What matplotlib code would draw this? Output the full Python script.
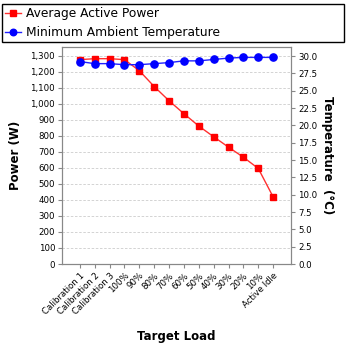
import matplotlib
matplotlib.use("Agg")
import matplotlib.pyplot as plt
import numpy as np

categories = ["Calibration 1", "Calibration 2", "Calibration 3", "100%", "90%", "80%",
              "70%", "60%", "50%", "40%", "30%", "20%", "10%", "Active Idle"]
power = [1277, 1283, 1283, 1277, 1208, 1109, 1020, 939, 862, 795, 730, 667, 597, 419]
temperature = [29.2, 28.9, 28.9, 28.75, 28.75, 28.9, 29.05, 29.3, 29.3, 29.5, 29.7, 29.8, 29.8, 29.8]
power_ticks = list(range(0, 1301, 100))
temp_ticks = [0.0, 2.5, 5.0, 7.5, 10.0, 12.5, 15.0, 17.5, 20.0, 22.5, 25.0, 27.5, 30.0]

fig = plt.figure(figsize=(3.48, 3.48), dpi=100)
ax = fig.add_axes([62/348, 1-264/348, (291-62)/348, (264-47)/348])
ax2 = ax.twinx()

x = np.arange(len(categories))
l1, = ax.plot(x, power, color="#ff3030", lw=1.0, marker="s", markersize=5,
              markerfacecolor="red", markeredgecolor="red", label="Average Active Power", zorder=3)
l2, = ax2.plot(x, temperature, color="#2020ff", lw=1.0, marker="o", markersize=5.2,
               markerfacecolor="blue", markeredgecolor="blue", label="Minimum Ambient Temperature", zorder=3)

ax.set_xlim(-1.2, len(categories) - 1 + 1.2)
ax.set_ylim(0, 1356)
ax2.set_ylim(0, 31.3)
ax.set_yticks(power_ticks)
ax.set_yticklabels([f"{v:,}" for v in power_ticks])
ax2.set_yticks(temp_ticks)
ax2.set_yticklabels([f"{v:.1f}" for v in temp_ticks])
ax.set_xticks(x)
ax.set_xticklabels(categories, rotation=45, ha="right", rotation_mode="anchor")

ax.grid(axis="y", color="#cccccc", ls=(0, (3, 2)), lw=0.6)
ax.set_axisbelow(True)
for a in (ax, ax2):
    for s in a.spines.values():
        s.set_color("#888888")
    a.tick_params(colors="#888888", labelcolor="black", labelsize=6.2, length=3, width=0.8, pad=2)

ax.set_xlabel("Target Load", fontsize=8.5, fontweight="bold", labelpad=10)
ax.set_ylabel("Power (W)", fontsize=8.5, fontweight="bold", labelpad=6)
ax2.set_ylabel("Temperature  (°C)", fontsize=8.5, fontweight="bold", rotation=270, labelpad=12)

fig.legend([l1, l2], ["Average Active Power", "Minimum Ambient Temperature"],
           loc="lower left", bbox_to_anchor=(2/348, 1-42/348, 342/348, 40/348),
           mode="expand", borderaxespad=0, fontsize=8.8, fancybox=False,
           edgecolor="black", framealpha=1, handlelength=1.3, handletextpad=0.4,
           borderpad=0.25, labelspacing=0.45, markerscale=0.9)
fig.savefig("out.png", dpi=100)
